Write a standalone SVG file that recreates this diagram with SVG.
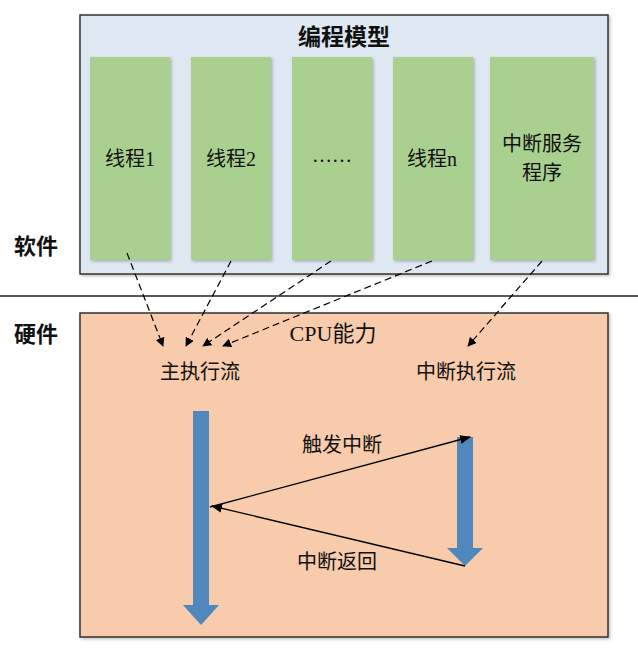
<svg xmlns="http://www.w3.org/2000/svg" width="638" height="660" viewBox="0 0 638 660">
<defs>
<style>
.t{font-family:"Liberation Serif","Noto Sans CJK SC",serif;fill:#111;text-anchor:middle}
.lbl{font-size:20px}
.big{font-size:23px;font-weight:bold}
.side{font-family:"Noto Sans CJK SC",sans-serif;font-size:22px;font-weight:bold;fill:#111}
.col{fill:#A9D08E}
.dash{stroke:#000;stroke-width:1.2;stroke-dasharray:7 4;fill:none}
.solid{stroke:#000;stroke-width:1.3;fill:none}
.blue{fill:#5088BD}
</style>
<marker id="ah" viewBox="0 0 10 10" refX="9" refY="5" markerWidth="9" markerHeight="9" markerUnits="userSpaceOnUse" orient="auto">
<path d="M0,0 L10,5 L0,10 z" fill="#000"/>
</marker>
<marker id="ahs" viewBox="0 0 10 10" refX="9" refY="5" markerWidth="11" markerHeight="11" markerUnits="userSpaceOnUse" orient="auto">
<path d="M0,1 L10,5 L0,9 z" fill="#000"/>
</marker>
<filter id="sh" x="-10%" y="-10%" width="130%" height="130%">
<feDropShadow dx="1.5" dy="1.5" stdDeviation="1.5" flood-color="#000" flood-opacity="0.25"/>
</filter>
</defs>

<line x1="0" y1="296" x2="638" y2="296" stroke="#222" stroke-width="1.5"/>
<text class="side" x="14" y="254">软件</text>
<text class="side" x="14" y="342">硬件</text>

<g id="programming-model">
<rect x="80" y="15" width="528" height="259" fill="#DEE8F2" stroke="#333" stroke-width="1.5" filter="url(#sh)"/>
<text class="t big" x="344" y="45">编程模型</text>
</g>
<g id="thread1"><rect class="col" x="90" y="57" width="80" height="203" filter="url(#sh)"/><text class="t lbl" x="130" y="166">线程1</text></g>
<g id="thread2"><rect class="col" x="191" y="57" width="80" height="203" filter="url(#sh)"/><text class="t lbl" x="231" y="166">线程2</text></g>
<g id="threads-etc"><rect class="col" x="292" y="57" width="80" height="203" filter="url(#sh)"/><text class="t lbl" x="332" y="162">……</text></g>
<g id="threadn"><rect class="col" x="393" y="57" width="80" height="203" filter="url(#sh)"/><text class="t lbl" x="432" y="166">线程n</text></g>
<g id="isr"><rect class="col" x="490" y="57" width="104" height="203" filter="url(#sh)"/><text class="t lbl" x="542" y="151">中断服务</text><text class="t lbl" x="542" y="180">程序</text></g>

<g id="cpu">
<rect x="80" y="313" width="528" height="324" fill="#F8CBAD" stroke="#333" stroke-width="1.5" filter="url(#sh)"/>
<text class="t big" x="333" y="341" style="font-weight:normal;font-size:22px">CPU能力</text>
</g>
<g id="main-flow">
<text class="t lbl" x="200" y="379">主执行流</text>
<path class="blue" d="M193,411 H209 V605 H219 L201,625 L183,605 H193 Z"/>
</g>
<g id="irq-flow">
<text class="t lbl" x="466" y="379">中断执行流</text>
<path class="blue" d="M457,437 H473 V548 H483 L465,566 L447,548 H457 Z"/>
</g>

<g id="connectors">
<line class="dash" x1="127" y1="253" x2="163" y2="346" marker-end="url(#ah)"/>
<line class="dash" x1="231" y1="261" x2="186" y2="346" marker-end="url(#ah)"/>
<line class="dash" x1="331" y1="261" x2="203" y2="346" marker-end="url(#ah)"/>
<line class="dash" x1="432" y1="261" x2="223" y2="346" marker-end="url(#ah)"/>
<line class="dash" x1="542" y1="261" x2="468" y2="346" marker-end="url(#ah)"/>
<line class="solid" x1="210" y1="507" x2="470" y2="437" marker-end="url(#ahs)"/>
<line class="solid" x1="465" y1="566" x2="212" y2="506" marker-end="url(#ahs)"/>
<text class="t lbl" x="342" y="452">触发中断</text>
<text class="t lbl" x="337" y="569">中断返回</text>
</g>
</svg>
